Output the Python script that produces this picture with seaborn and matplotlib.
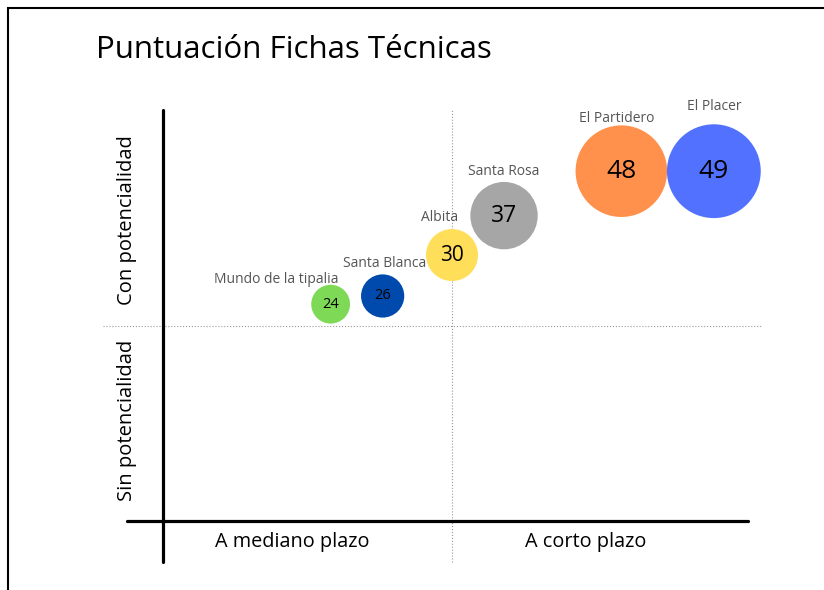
import pandas as pd
import numpy as np
import matplotlib.pyplot as plt
import seaborn as sns
from matplotlib.patches import Rectangle

# datos
nombres = ['Mundo de la tipalia', 'Santa Blanca', 'Albita', 'Santa Rosa', 'El Partidero', 'El Placer']
puntajes = [24, 26, 30, 37, 48, 49]
plazo = [2.9, 3.8, 5.0, 5.9, 7.93, 9.53]          # eje x (0-10, corte en 5)
potencialidad = [5.56, 5.77, 6.82, 7.83, 8.97, 8.97]  # eje y (0-10, corte en 5)
colores = ['#7ED957', '#004AAD', '#FFDE59', '#A6A6A6', '#FF914D', '#5271FF']

df = pd.DataFrame({'nombre': nombres, 'puntaje': puntajes,
                   'x': plazo, 'y': potencialidad})

sns.set_style('white')
plt.rcParams['font.family'] = ['Open Sans', 'DejaVu Sans']
plt.rcParams['text.color'] = 'black'

fig = plt.figure(figsize=(8.24, 5.9), dpi=100)
ax = fig.add_axes([100 / 824, 25 / 590, 665 / 824, 460 / 590])

# radio del circulo (px) crece con el puntaje
radio = {v: 1.1 * v - 7 for v in puntajes}
tamanos = {v: (2 * radio[v] * 0.72) ** 2 for v in puntajes}

sns.scatterplot(data=df, x='x', y='y', hue='nombre', palette=colores,
                size='puntaje', sizes=tamanos, legend=False,
                linewidth=0, alpha=1, ax=ax, zorder=3)

ax.set_xlim(-1.09, 10.415)
ax.set_ylim(-1.128, 10.667)
ax.axis('off')

# ejes y divisiones de cuadrantes
ax.plot([-0.62, 10.12], [0, 0], color='black', lw=2.3, solid_capstyle='round', zorder=2)
ax.plot([0, 0], [-1.05, 10.54], color='black', lw=2.3, zorder=2)
ax.plot([5, 5], [-1.05, 10.54], color='#999999', lw=0.8, ls=':', zorder=1)
ax.plot([-1.04, 10.36], [5, 5], color='#999999', lw=0.8, ls=':', zorder=1)

# textos de cuadrantes
ax.text(-0.62, 7.72, 'Con potencialidad', rotation=90, ha='center', va='center', fontsize=14.5)
ax.text(-0.62, 2.59, 'Sin potencialidad', rotation=90, ha='center', va='center', fontsize=14.5)
ax.text(2.23, -0.54, 'A mediano plazo', ha='center', va='center', fontsize=14.3)
ax.text(7.32, -0.54, 'A corto plazo', ha='center', va='center', fontsize=14.3)

# etiquetas de cada burbuja
desplaz = [(-54, 25), (2, 32), (-12, 38), (0, 44), (-5, 53), (0, 65)]
fs_num = [10.5, 10.5, 15, 16.5, 19, 19]
for i, row in df.iterrows():
    dx, dy = desplaz[i]
    ax.annotate(row['nombre'], (row['x'], row['y']), xytext=(dx * 0.72, dy * 0.72),
                textcoords='offset points', ha='center', va='center',
                fontsize=10, color='#555555')
    ax.text(row['x'], row['y'], str(row['puntaje']), ha='center', va='center',
            fontsize=fs_num[i], color='black', zorder=4)

fig.text(96 / 824, 1 - 50 / 590, 'Puntuación Fichas Técnicas', ha='left', va='center', fontsize=22.5)

# marco
fig.patches.append(Rectangle((8 / 824, -0.1), 1.2, 1.1 - 8 / 590, transform=fig.transFigure,
                             fill=False, edgecolor='black', lw=1.5, clip_on=False))

fig.savefig('out.png', dpi=100)
